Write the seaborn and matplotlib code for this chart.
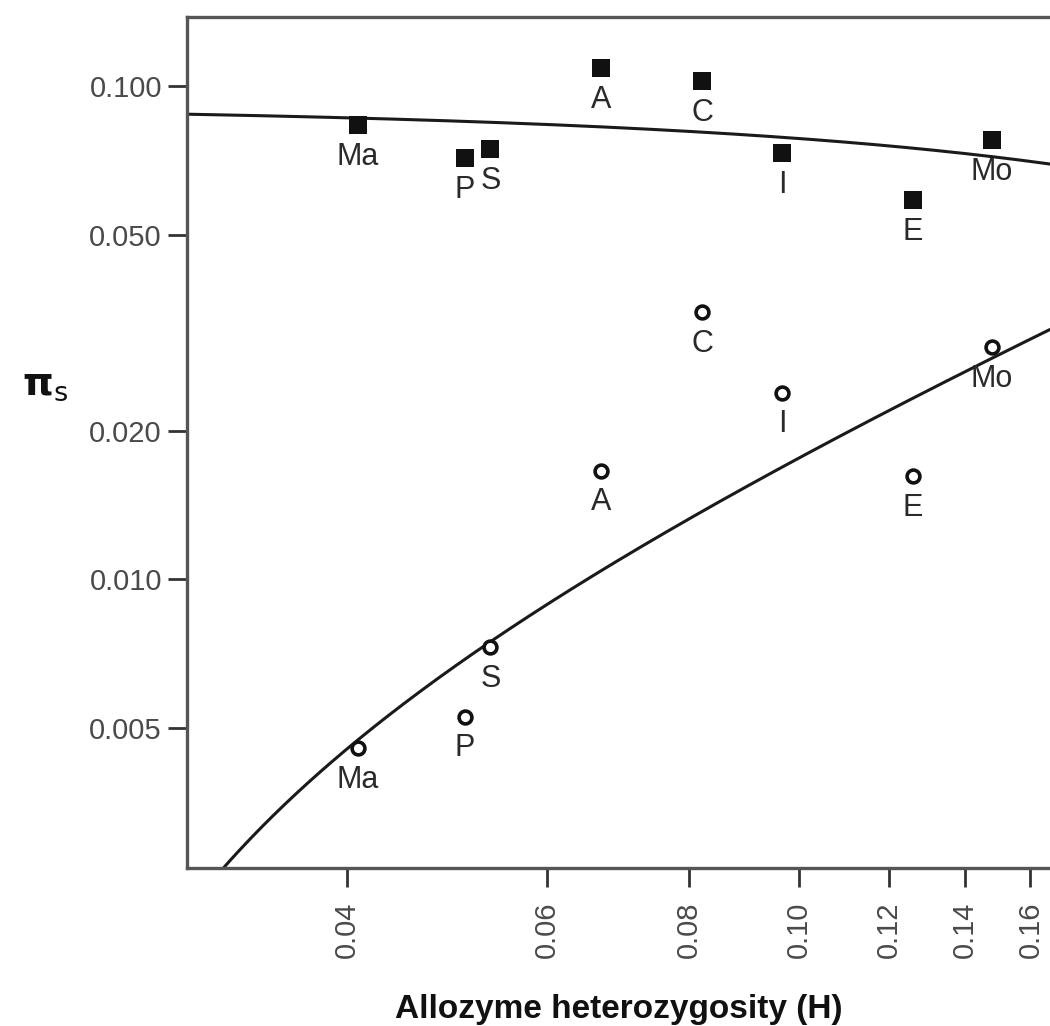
import numpy as np
import pandas as pd
import matplotlib
matplotlib.use("Agg")
import matplotlib.pyplot as plt
import seaborn as sns

# species codes
species = ["Ma", "P", "S", "A", "C", "I", "E", "Mo"]

# allozyme heterozygosity (H) per species
het_H = [0.0409, 0.0508, 0.0535, 0.0670, 0.0822, 0.0967, 0.1260, 0.1480]

# upper group, filled squares
pi_upper = [0.0834, 0.0714, 0.0745, 0.1088, 0.1024, 0.0731, 0.0587, 0.0777]
# lower group, open circles
pi_lower = [0.00455, 0.00527, 0.00728, 0.0166, 0.0348, 0.0239, 0.0162, 0.0296]

# linear fits (intercept, slope) drawn on log-log axes
upper_fit = (0.0915, -0.1323)
lower_fit = (-0.00418, 0.2179)

x_limits = (0.0289, 0.1665)
y_limits = (0.0026, 0.138)
x_ticks = [0.04, 0.06, 0.08, 0.10, 0.12, 0.14, 0.16]
x_ticklabels = ["0.04", "0.06", "0.08", "0.10", "0.12", "0.14", "0.16"]
y_ticks = [0.005, 0.010, 0.020, 0.050, 0.100]
y_ticklabels = ["0.005", "0.010", "0.020", "0.050", "0.100"]

sns.set_style("white")
plt.rcParams["font.family"] = ["Liberation Sans", "DejaVu Sans"]

df = pd.DataFrame({"H": het_H, "upper": pi_upper, "lower": pi_lower, "sp": species})

fig = plt.figure(figsize=(10.5, 10.26), dpi=100)
ax = fig.add_axes([187 / 1050, 1 - 868 / 1026, (1050 - 187) / 1050, (868 - 17) / 1026])
ax.set_xscale("log")
ax.set_yscale("log")

# fitted lines
grid = np.geomspace(x_limits[0], x_limits[1], 300)
for b0, b1 in [upper_fit, lower_fit]:
    fit = b0 + b1 * grid
    keep = fit > 0
    sns.lineplot(x=grid[keep], y=fit[keep], ax=ax, color="#1a1a1a", linewidth=2.2, zorder=2)

# points
sns.scatterplot(data=df, x="H", y="upper", ax=ax, marker="s", s=150,
                color="#111111", edgecolor="#111111", linewidth=0, zorder=3)
sns.scatterplot(data=df, x="H", y="lower", ax=ax, marker="o", s=85,
                facecolor="white", edgecolor="#111111", linewidth=2.6, zorder=3)

for col in ["upper", "lower"]:
    for _, r in df.iterrows():
        ax.annotate(r["sp"], (r["H"], r[col]), xytext=(0, -12), textcoords="offset points",
                    ha="center", va="top", fontsize=22, color="#2a2a2a", zorder=4)

ax.set_xlim(*x_limits)
ax.set_ylim(*y_limits)
ax.set_xticks(x_ticks)
ax.set_xticklabels(x_ticklabels, rotation=90)
ax.set_yticks(y_ticks)
ax.set_yticklabels(y_ticklabels)
ax.minorticks_off()
ax.tick_params(axis="both", direction="out", length=14, width=2, color="#333333",
               labelsize=21, labelcolor="#4a4a4a")
ax.tick_params(axis="x", pad=10, bottom=True)
ax.tick_params(axis="y", pad=4, left=True)

for side in ["left", "bottom", "top"]:
    ax.spines[side].set_color("#555555")
    ax.spines[side].set_linewidth(2.4)
ax.spines["right"].set_visible(False)

ax.set_xlabel("Allozyme heterozygosity (H)", fontsize=24, fontweight="bold",
              color="#111111", labelpad=26)
ax.set_ylabel("")
fig.text(45 / 1050, 1 - 385 / 1026, r"$\mathbf{\pi}_{\rm s}$", fontsize=28, ha="center",
         va="center", color="#111111")

fig.savefig("out.png", dpi=100)
